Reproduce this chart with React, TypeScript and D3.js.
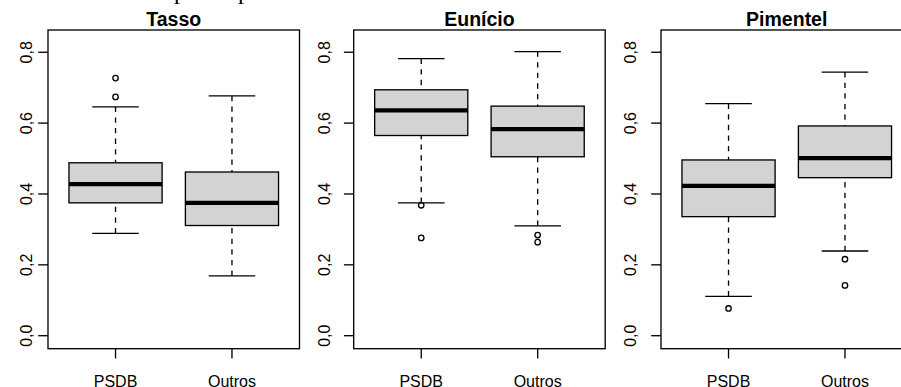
import React from "react";
import * as d3 from "d3";

const panelTitles = ["Tasso", "Eunício", "Pimentel"];
const groups = ["PSDB", "Outros"];
const whiskerLow = [[0.289, 0.169], [0.375, 0.31], [0.111, 0.239]];
const q1 = [[0.375, 0.311], [0.565, 0.505], [0.336, 0.446]];
const medians = [[0.428, 0.375], [0.636, 0.583], [0.423, 0.501]];
const q3 = [[0.488, 0.462], [0.694, 0.648], [0.496, 0.592]];
const whiskerHigh = [[0.646, 0.677], [0.782, 0.802], [0.655, 0.744]];
const outliers = [
  [[0.727, 0.674], []],
  [[0.368, 0.276], [0.284, 0.264]],
  [[0.077], [0.216, 0.142]],
];
const yTicks = [0, 0.2, 0.4, 0.6, 0.8];

const W = 901;
const H = 387;
const panelLeft = [48, 353.7, 661];
const labelOffset = [22.2, 29.5, 30.5];
const panelW = 251.5;
const top = 30;
const bottom = 348.7;
const font = "'Liberation Sans', Arial, sans-serif";

const fmt = (v: number) => d3.format(".1f")(v).replace(".", ",");

export default function App() {
  const y = d3.scaleLinear().domain([-0.0367, 0.8628]).range([bottom, top]);
  const lw = 1.33;
  return (
    <svg
      width={W}
      height={H}
      style={{ position: "absolute", left: 0, top: 0, background: "#fff" }}
    >
      <rect x={0} y={0} width={W} height={H} fill="#fff" />
      <text x={174} y={-1} fontFamily="'Liberation Serif', serif" fontSize={24}>p</text>
      <text x={238} y={-1} fontFamily="'Liberation Serif', serif" fontSize={24}>p</text>
      {panelTitles.map((title, p) => {
        const left = panelLeft[p];
        const x = d3.scaleLinear().domain([0.42, 2.58]).range([left, left + panelW]);
        const bw = x(0.8) - x(0);
        const sw = bw * 0.5;
        return (
          <g key={title}>
            <text
              x={left + panelW / 2}
              y={25.5}
              textAnchor="middle"
              fontFamily={font}
              fontWeight="bold"
              fontSize={19.5}
            >
              {title}
            </text>
            {groups.map((g, i) => {
              const cx = x(i + 1);
              return (
                <g key={g}>
                  <line x1={cx} x2={cx} y1={y(whiskerHigh[p][i])} y2={y(q3[p][i])} stroke="#000" strokeWidth={lw} strokeDasharray="5.3 5.3" />
                  <line x1={cx} x2={cx} y1={y(whiskerLow[p][i])} y2={y(q1[p][i])} stroke="#000" strokeWidth={lw} strokeDasharray="5.3 5.3" />
                  <line x1={cx - sw / 2} x2={cx + sw / 2} y1={y(whiskerHigh[p][i])} y2={y(whiskerHigh[p][i])} stroke="#000" strokeWidth={lw} />
                  <line x1={cx - sw / 2} x2={cx + sw / 2} y1={y(whiskerLow[p][i])} y2={y(whiskerLow[p][i])} stroke="#000" strokeWidth={lw} />
                  <rect
                    x={cx - bw / 2}
                    y={y(q3[p][i])}
                    width={bw}
                    height={y(q1[p][i]) - y(q3[p][i])}
                    fill="#d3d3d3"
                    stroke="#000"
                    strokeWidth={lw}
                  />
                  <line x1={cx - bw / 2} x2={cx + bw / 2} y1={y(medians[p][i])} y2={y(medians[p][i])} stroke="#000" strokeWidth={4.2} />
                  {outliers[p][i].map((o, k) => (
                    <circle key={k} cx={cx} cy={y(o)} r={2.7} fill="none" stroke="#000" strokeWidth={lw} />
                  ))}
                  <line x1={cx} x2={cx} y1={bottom} y2={bottom + 9.8} stroke="#000" strokeWidth={lw} />
                  <text x={cx} y={386.5} textAnchor="middle" fontFamily={font} fontSize={16}>
                    {g}
                  </text>
                </g>
              );
            })}
            {yTicks.map((t) => (
              <g key={t}>
                <line x1={left - 9.8} x2={left} y1={y(t)} y2={y(t)} stroke="#000" strokeWidth={lw} />
                <text
                  transform={`translate(${left - labelOffset[p]},${y(t)}) rotate(-90)`}
                  textAnchor="middle"
                  dy="0.36em"
                  fontFamily={font}
                  fontSize={16}
                >
                  {fmt(t)}
                </text>
              </g>
            ))}
            <rect x={left} y={top} width={panelW} height={bottom - top} fill="none" stroke="#000" strokeWidth={lw} />
          </g>
        );
      })}
    </svg>
  );
}
